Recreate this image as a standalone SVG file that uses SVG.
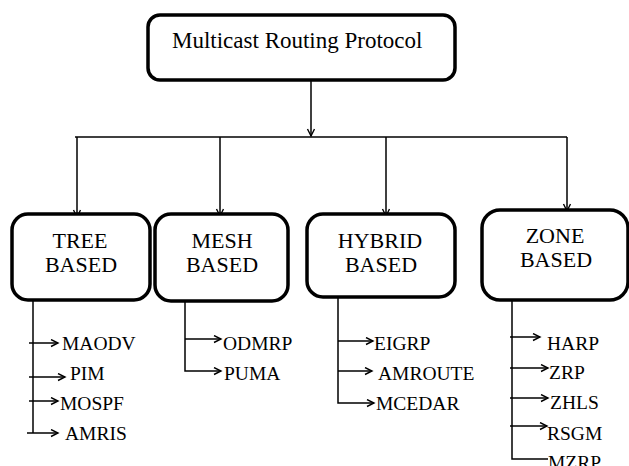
<svg xmlns="http://www.w3.org/2000/svg" width="629" height="466" viewBox="0 0 629 466">
<defs>
<marker id="arr" markerWidth="10" markerHeight="10" refX="8" refY="4" orient="auto" markerUnits="userSpaceOnUse">
<path d="M1,0.5 L8,4 L1,7.5" fill="none" stroke="#000" stroke-width="1.4"/>
</marker>
<style>
.box{fill:#fff;stroke:#000;stroke-width:3.5}
.t{font-family:'Liberation Serif','Times New Roman',Times,Tinos,'Noto Serif','DejaVu Serif',FreeSerif,serif;fill:#000}
.h{font-size:22px;text-anchor:middle}
.c{font-size:19.5px}
.ln{fill:none;stroke:#000;stroke-width:1.5}
</style>
</defs>
<rect width="629" height="466" fill="#fff"/>
<g id="connectors">
<path class="ln" d="M311,80 V136" marker-end="url(#arr)"/>
<path class="ln" d="M75,137 H567"/>
<path class="ln" d="M77,137 V217" marker-end="url(#arr)"/>
<path class="ln" d="M220,137 V216" marker-end="url(#arr)"/>
<path class="ln" d="M386,137 V216" marker-end="url(#arr)"/>
<path class="ln" d="M567,137 V211" marker-end="url(#arr)"/>
<path class="ln" d="M33,300 V433"/>
<path class="ln" d="M29,343 H58" marker-end="url(#arr)"/>
<path class="ln" d="M29,377 H65" marker-end="url(#arr)"/>
<path class="ln" d="M29,401 H58" marker-end="url(#arr)"/>
<path class="ln" d="M27,433 H58" marker-end="url(#arr)"/>
<path class="ln" d="M185,300 V371 H221" marker-end="url(#arr)"/>
<path class="ln" d="M185,339 H221" marker-end="url(#arr)"/>
<path class="ln" d="M338,297 V403 H374" marker-end="url(#arr)"/>
<path class="ln" d="M338,341 H373" marker-end="url(#arr)"/>
<path class="ln" d="M338,371 H372" marker-end="url(#arr)"/>
<path class="ln" d="M512,300 V459 H548"/>
<path class="ln" d="M510,337 H540" marker-end="url(#arr)"/>
<path class="ln" d="M510,368 H548" marker-end="url(#arr)"/>
<path class="ln" d="M510,398 H548" marker-end="url(#arr)"/>
<path class="ln" d="M510,426 H547" marker-end="url(#arr)"/>
</g>
<g id="root">
<rect class="box" x="148" y="15" width="307" height="65" rx="12"/>
<text class="t" x="172" y="48" font-size="23">Multicast Routing Protocol</text>
</g>
<g id="tree">
<rect class="box" x="12" y="214" width="138" height="86" rx="16"/>
<text class="t h" x="80" y="248">TREE</text>
<text class="t h" x="81" y="272">BASED</text>
</g>
<g id="mesh">
<rect class="box" x="155" y="214" width="133" height="87" rx="16"/>
<text class="t h" x="222" y="248">MESH</text>
<text class="t h" x="222" y="272">BASED</text>
</g>
<g id="hybrid">
<rect class="box" x="307" y="214" width="148" height="83" rx="16"/>
<text class="t h" x="380" y="248">HYBRID</text>
<text class="t h" x="381" y="272">BASED</text>
</g>
<g id="zone">
<rect class="box" x="482" y="210" width="146" height="90" rx="18"/>
<text class="t h" x="555" y="243">ZONE</text>
<text class="t h" x="556" y="267">BASED</text>
</g>
<g id="items">
<text class="t c" x="62" y="350">MAODV</text>
<text class="t c" x="70" y="380">PIM</text>
<text class="t c" x="60" y="410">MOSPF</text>
<text class="t c" x="65" y="440">AMRIS</text>
<text class="t c" x="223" y="350">ODMRP</text>
<text class="t c" x="224" y="380">PUMA</text>
<text class="t c" x="374" y="350">EIGRP</text>
<text class="t c" x="378" y="380">AMROUTE</text>
<text class="t c" x="376" y="410">MCEDAR</text>
<text class="t c" x="547" y="350">HARP</text>
<text class="t c" x="549" y="379">ZRP</text>
<text class="t c" x="550" y="409">ZHLS</text>
<text class="t c" x="547" y="440">RSGM</text>
<text class="t c" x="548" y="469">MZRP</text>
</g>
</svg>
